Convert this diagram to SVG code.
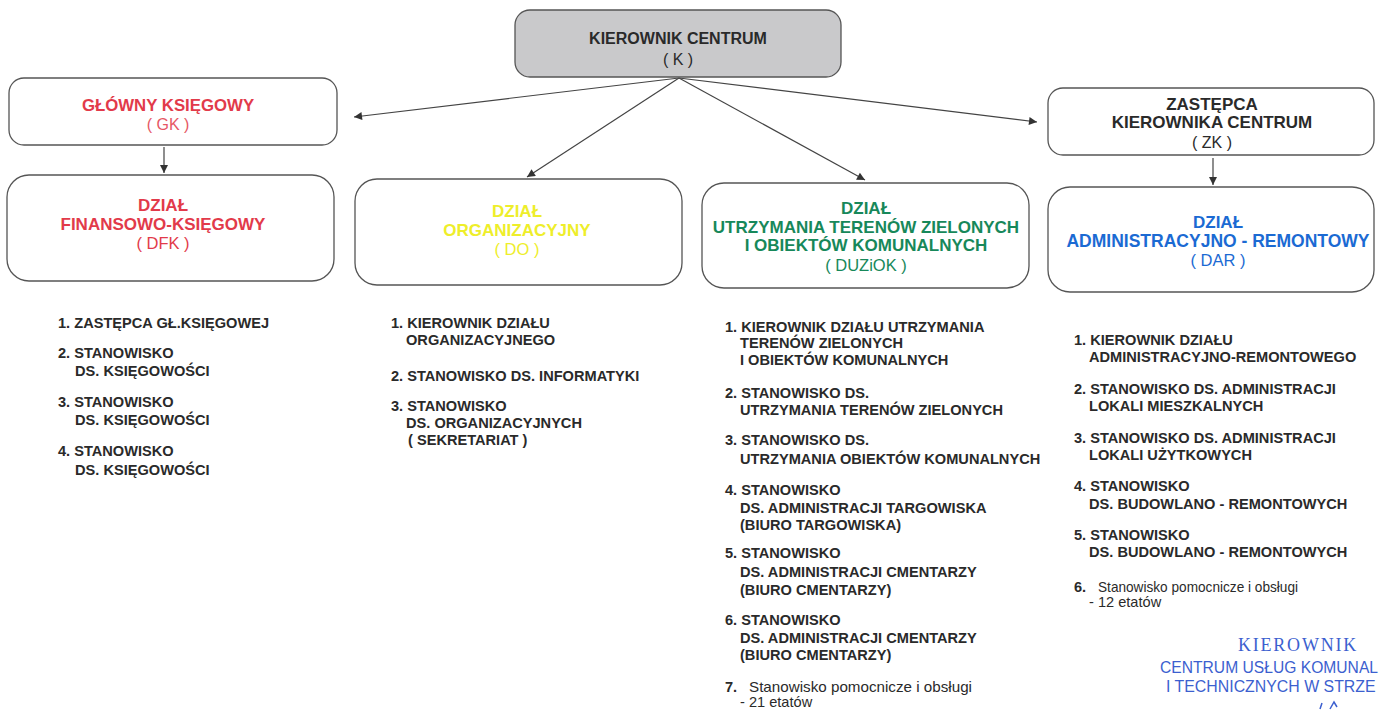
<svg xmlns="http://www.w3.org/2000/svg" width="1383" height="710" viewBox="0 0 1383 710">
<style>
.box{fill:#fff;stroke:#555;stroke-width:1.3}
.kbox{fill:#c9c9cb;stroke:#555;stroke-width:1.3}
text{font-family:"Liberation Sans",Arial,sans-serif}
.h{font-weight:bold;text-anchor:middle}
.p{font-weight:normal;text-anchor:middle}
.l{font-weight:bold;font-size:14.6px;fill:#2a2a2a}
.s{font-weight:normal;font-size:14.6px;fill:#2a2a2a}
.c{stroke:#444;stroke-width:1.2;fill:none;marker-end:url(#ah)}
.red{fill:#e23a4a}.yel{fill:#eeee2a}.grn{fill:#17885a}.blu{fill:#1b6ad3}.blk{fill:#2a2a2a}
.stamp{fill:#3c5fcf}
</style>
<defs>
<marker id="ah" viewBox="0 0 10 10" refX="10" refY="5" markerWidth="10" markerHeight="8" markerUnits="userSpaceOnUse" orient="auto">
<path d="M0,0 L10,5 L0,10 z" fill="#333"/>
</marker>
</defs>
<rect width="1383" height="710" fill="#fff"/>

<g id="connectors">
<line class="c" x1="679" y1="78" x2="354" y2="117"/>
<line class="c" x1="679" y1="78" x2="527" y2="177"/>
<line class="c" x1="679" y1="78" x2="865" y2="180"/>
<line class="c" x1="679" y1="78" x2="1037" y2="122"/>
<line class="c" x1="164" y1="147" x2="164" y2="173"/>
<line class="c" x1="1213" y1="158" x2="1213" y2="185"/>
</g>

<g id="node-K">
<rect class="kbox" x="515" y="10" width="326" height="67" rx="15"/>
<text class="h blk" x="678" y="44" font-size="16">KIEROWNIK CENTRUM</text>
<text class="p blk" x="678" y="65" font-size="16">( K )</text>
</g>

<g id="node-GK">
<rect class="box" x="9" y="78" width="328" height="67" rx="15"/>
<text class="h red" x="168" y="111" font-size="16.8">GŁÓWNY KSIĘGOWY</text>
<text class="p red" x="168" y="130" font-size="16" opacity="0.85">( GK )</text>
</g>

<g id="node-ZK">
<rect class="box" x="1048" y="88" width="326" height="67" rx="15"/>
<text class="h blk" x="1212" y="110" font-size="17">ZASTĘPCA</text>
<text class="h blk" x="1212" y="128" font-size="17">KIEROWNIKA CENTRUM</text>
<text class="p blk" x="1212" y="148" font-size="16">( ZK )</text>
</g>

<g id="node-DFK">
<rect class="box" x="7" y="175" width="327" height="106" rx="22"/>
<text class="h red" x="163" y="211" font-size="17">DZIAŁ</text>
<text class="h red" x="163" y="230" font-size="17">FINANSOWO-KSIĘGOWY</text>
<text class="p red" x="163" y="249" font-size="16.5">( DFK )</text>
</g>

<g id="node-DO">
<rect class="box" x="355" y="179" width="327" height="106" rx="22"/>
<text class="h yel" x="517" y="217" font-size="17">DZIAŁ</text>
<text class="h yel" x="517" y="236" font-size="17">ORGANIZACYJNY</text>
<text class="p yel" x="517" y="255" font-size="16.5">( DO )</text>
</g>

<g id="node-DUZiOK">
<rect class="box" x="702" y="183" width="327" height="105" rx="22"/>
<text class="h grn" x="866" y="214" font-size="17">DZIAŁ</text>
<text class="h grn" x="866" y="233" font-size="17">UTRZYMANIA TERENÓW ZIELONYCH</text>
<text class="h grn" x="866" y="251" font-size="17">I OBIEKTÓW KOMUNALNYCH</text>
<text class="p grn" x="866" y="271" font-size="16.5">( DUZiOK )</text>
</g>

<g id="node-DAR">
<rect class="box" x="1048" y="187" width="326" height="105" rx="22"/>
<text class="h blu" x="1218" y="228" font-size="17">DZIAŁ</text>
<text class="h blu" x="1218" y="247" font-size="17.5">ADMINISTRACYJNO - REMONTOWY</text>
<text class="p blu" x="1218" y="266" font-size="16.5">( DAR )</text>
</g>

<g id="list-DFK">
<text class="l" x="58" y="328">1. ZASTĘPCA GŁ.KSIĘGOWEJ</text>
<text class="l" x="58" y="358">2. STANOWISKO</text>
<text class="l" x="75" y="376">DS. KSIĘGOWOŚCI</text>
<text class="l" x="58" y="407">3. STANOWISKO</text>
<text class="l" x="75" y="425">DS. KSIĘGOWOŚCI</text>
<text class="l" x="58" y="456">4. STANOWISKO</text>
<text class="l" x="75" y="475">DS. KSIĘGOWOŚCI</text>
</g>

<g id="list-DO">
<text class="l" x="391" y="328">1. KIEROWNIK DZIAŁU</text>
<text class="l" x="406" y="345">ORGANIZACYJNEGO</text>
<text class="l" x="391" y="381">2. STANOWISKO DS. INFORMATYKI</text>
<text class="l" x="391" y="411">3. STANOWISKO</text>
<text class="l" x="406" y="428">DS. ORGANIZACYJNYCH</text>
<text class="l" x="408" y="445">( SEKRETARIAT )</text>
</g>

<g id="list-DUZiOK">
<text class="l" x="725" y="332">1. KIEROWNIK DZIAŁU UTRZYMANIA</text>
<text class="l" x="740" y="348">TERENÓW ZIELONYCH</text>
<text class="l" x="740" y="365">I OBIEKTÓW KOMUNALNYCH</text>
<text class="l" x="725" y="398">2. STANOWISKO DS.</text>
<text class="l" x="740" y="415">UTRZYMANIA TERENÓW ZIELONYCH</text>
<text class="l" x="725" y="445">3. STANOWISKO DS.</text>
<text class="l" x="740" y="464">UTRZYMANIA OBIEKTÓW KOMUNALNYCH</text>
<text class="l" x="725" y="495">4. STANOWISKO</text>
<text class="l" x="740" y="513">DS. ADMINISTRACJI TARGOWISKA</text>
<text class="l" x="740" y="530">(BIURO TARGOWISKA)</text>
<text class="l" x="725" y="558">5.  STANOWISKO</text>
<text class="l" x="740" y="577">DS. ADMINISTRACJI CMENTARZY</text>
<text class="l" x="740" y="595">(BIURO CMENTARZY)</text>
<text class="l" x="725" y="625">6. STANOWISKO</text>
<text class="l" x="740" y="643">DS. ADMINISTRACJI CMENTARZY</text>
<text class="l" x="740" y="660">(BIURO CMENTARZY)</text>
<text class="l" x="725" y="692" font-size="15.5">7.</text>
<text class="s" x="749" y="692" textLength="223" lengthAdjust="spacingAndGlyphs">Stanowisko pomocnicze i obsługi</text>
<text class="s" x="740" y="707">- 21 etatów</text>
</g>

<g id="list-DAR">
<text class="l" x="1074" y="345">1. KIEROWNIK DZIAŁU</text>
<text class="l" x="1089" y="362">ADMINISTRACYJNO-REMONTOWEGO</text>
<text class="l" x="1074" y="394">2. STANOWISKO DS. ADMINISTRACJI</text>
<text class="l" x="1089" y="411">LOKALI MIESZKALNYCH</text>
<text class="l" x="1074" y="443">3. STANOWISKO DS. ADMINISTRACJI</text>
<text class="l" x="1089" y="460">LOKALI UŻYTKOWYCH</text>
<text class="l" x="1074" y="491">4. STANOWISKO</text>
<text class="l" x="1089" y="509">DS. BUDOWLANO - REMONTOWYCH</text>
<text class="l" x="1074" y="540">5. STANOWISKO</text>
<text class="l" x="1089" y="557">DS. BUDOWLANO - REMONTOWYCH</text>
<text class="l" x="1074" y="592" font-size="15.5">6.</text>
<text class="s" x="1098" y="592" textLength="200" lengthAdjust="spacingAndGlyphs">Stanowisko pomocnicze i obsługi</text>
<text class="s" x="1089" y="607">- 12 etatów</text>
</g>

<g id="stamp">
<text class="stamp" x="1298" y="651" text-anchor="middle" font-size="18" letter-spacing="1.8" style="font-family:'Liberation Serif',serif">KIEROWNIK</text>
<text class="stamp" transform="translate(1160,673) scale(0.92,1)" x="0" y="0" font-size="17">CENTRUM USŁUG KOMUNAL</text>
<text class="stamp" transform="translate(1166,692) scale(0.935,1)" x="0" y="0" font-size="17">I TECHNICZNYCH W STRZE</text>
<path d="M1320,709 l2,-6 M1330,709 l4,-7 l3,5" stroke="#3c5fcf" stroke-width="1.5" fill="none"/>
</g>
</svg>
